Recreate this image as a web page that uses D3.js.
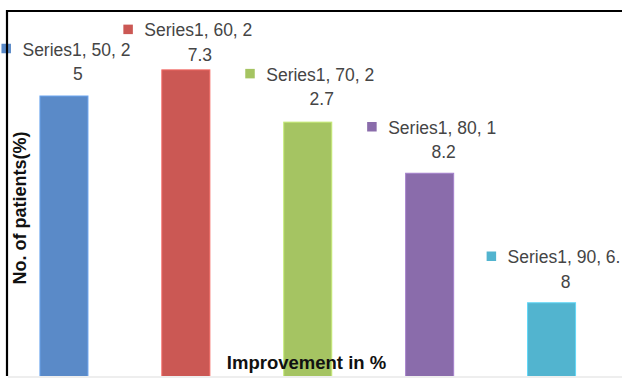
<!DOCTYPE html>
<html>
<head>
<meta charset="utf-8">
<script src="https://cdn.jsdelivr.net/npm/d3@7"></script>
<style>
  html, body { margin: 0; padding: 0; background: #fff; }
  svg { display: block; }
</style>
</head>
<body>
<svg id="chart" width="622" height="378"></svg>
<script>
// Improvement categories (%) and share of patients (%)
const seriesName = "Series1";
const categories = ["50", "60", "70", "80", "90"];
const values = [25, 27.3, 22.7, 18.2, 6.8];
const colors = ["#5a8ac8", "#cb5854", "#a5c462", "#8a6cab", "#52b4cf"];
// vertical space between each bar top and its data label
const labelGaps = [22, 15, 23, 21, 21];

const W = 622, H = 378;
const svg = d3.select("#chart");

const x = d3.scaleBand()
  .domain(categories)
  .range([3, 612.5])
  .paddingInner(0.606)
  .paddingOuter(0.303);

const y = d3.scaleLinear().domain([0, 30]).range([380, 39.2]);

const data = categories.map((c, i) => ({ cat: c, value: values[i], color: colors[i], gap: labelGaps[i] }));

// plot area clip (chart is cut at the bottom edge)
svg.append("defs").append("clipPath").attr("id", "plotClip")
  .append("rect").attr("x", 0).attr("y", 0).attr("width", W).attr("height", 376);

// bars
svg.append("g").attr("clip-path", "url(#plotClip)")
  .selectAll("rect").data(data).join("rect")
  .attr("x", d => x(d.cat))
  .attr("y", d => y(d.value))
  .attr("width", x.bandwidth())
  .attr("height", d => y(0) - y(d.value))
  .attr("fill", d => d.color)
  .attr("stroke", d => d3.color(d.color).brighter(0.5))
  .attr("stroke-width", 1);

// faint bottom edge
svg.append("rect").attr("x", 8).attr("y", 376).attr("width", W - 8).attr("height", 2).attr("fill", "#eeeeee");

// data labels: marker + "Series1, cat, value" wrapped by width
const labelFont = "17.5px 'Liberation Sans', Arial, sans-serif";
const maxLine = 114;
const measure = svg.append("text").style("font", labelFont).attr("visibility", "hidden");
function textWidth(s) { measure.text(s); return measure.node().getComputedTextLength(); }

const labels = svg.append("g");
data.forEach(d => {
  const full = `${seriesName}, ${d.cat}, ${d.value}`;
  let cut = full.length;
  for (let k = 1; k <= full.length; k++) {
    if (textWidth(full.slice(0, k)) > maxLine) { cut = k - 1; break; }
  }
  const line1 = full.slice(0, cut);
  const line2 = full.slice(cut);
  const w1 = textWidth(line1);
  const markerSize = 9.5, markerGap = 11.5;
  const blockW = markerSize + markerGap + w1;
  const cx = x(d.cat) + x.bandwidth() / 2 + 2;
  const left = cx - blockW / 2;
  const top = y(d.value);
  const y2 = top - d.gap;       // centre of second line
  const y1 = y2 - 24.5;         // centre of first line
  const g = labels.append("g");
  g.append("rect")
    .attr("x", left).attr("y", y1 - markerSize / 2 - 1)
    .attr("width", markerSize).attr("height", markerSize)
    .attr("fill", d.color);
  const textX = left + markerSize + markerGap;
  g.append("text")
    .attr("x", textX).attr("y", y1).attr("dy", "0.35em")
    .style("font", labelFont).attr("fill", "#454545")
    .text(line1);
  if (line2) {
    g.append("text")
      .attr("x", textX + w1 / 2 + 1.5).attr("y", y2).attr("dy", "0.35em")
      .attr("text-anchor", "middle")
      .style("font", labelFont).attr("fill", "#454545")
      .text(line2);
  }
});
measure.remove();

// axis titles
const titleFont = "bold 18.5px 'Liberation Sans', Arial, sans-serif";
svg.append("text")
  .attr("transform", "translate(20,208) rotate(-90)")
  .attr("text-anchor", "middle").attr("dy", "0.35em")
  .style("font", "bold 18px 'Liberation Sans', Arial, sans-serif").attr("fill", "#111")
  .text("No. of patients(%)");

svg.append("text")
  .attr("x", 306.5).attr("y", 363).attr("dy", "0.35em")
  .attr("text-anchor", "middle")
  .style("font", titleFont).attr("fill", "#111")
  .text("Improvement in %");

// chart frame: top and left edges
svg.append("line").attr("x1", 6).attr("x2", W).attr("y1", 11).attr("y2", 11)
  .attr("stroke", "#000").attr("stroke-width", 2.2);
svg.append("line").attr("x1", 7).attr("x2", 7).attr("y1", 10).attr("y2", 376)
  .attr("stroke", "#000").attr("stroke-width", 2.2);
</script>
</body>
</html>
